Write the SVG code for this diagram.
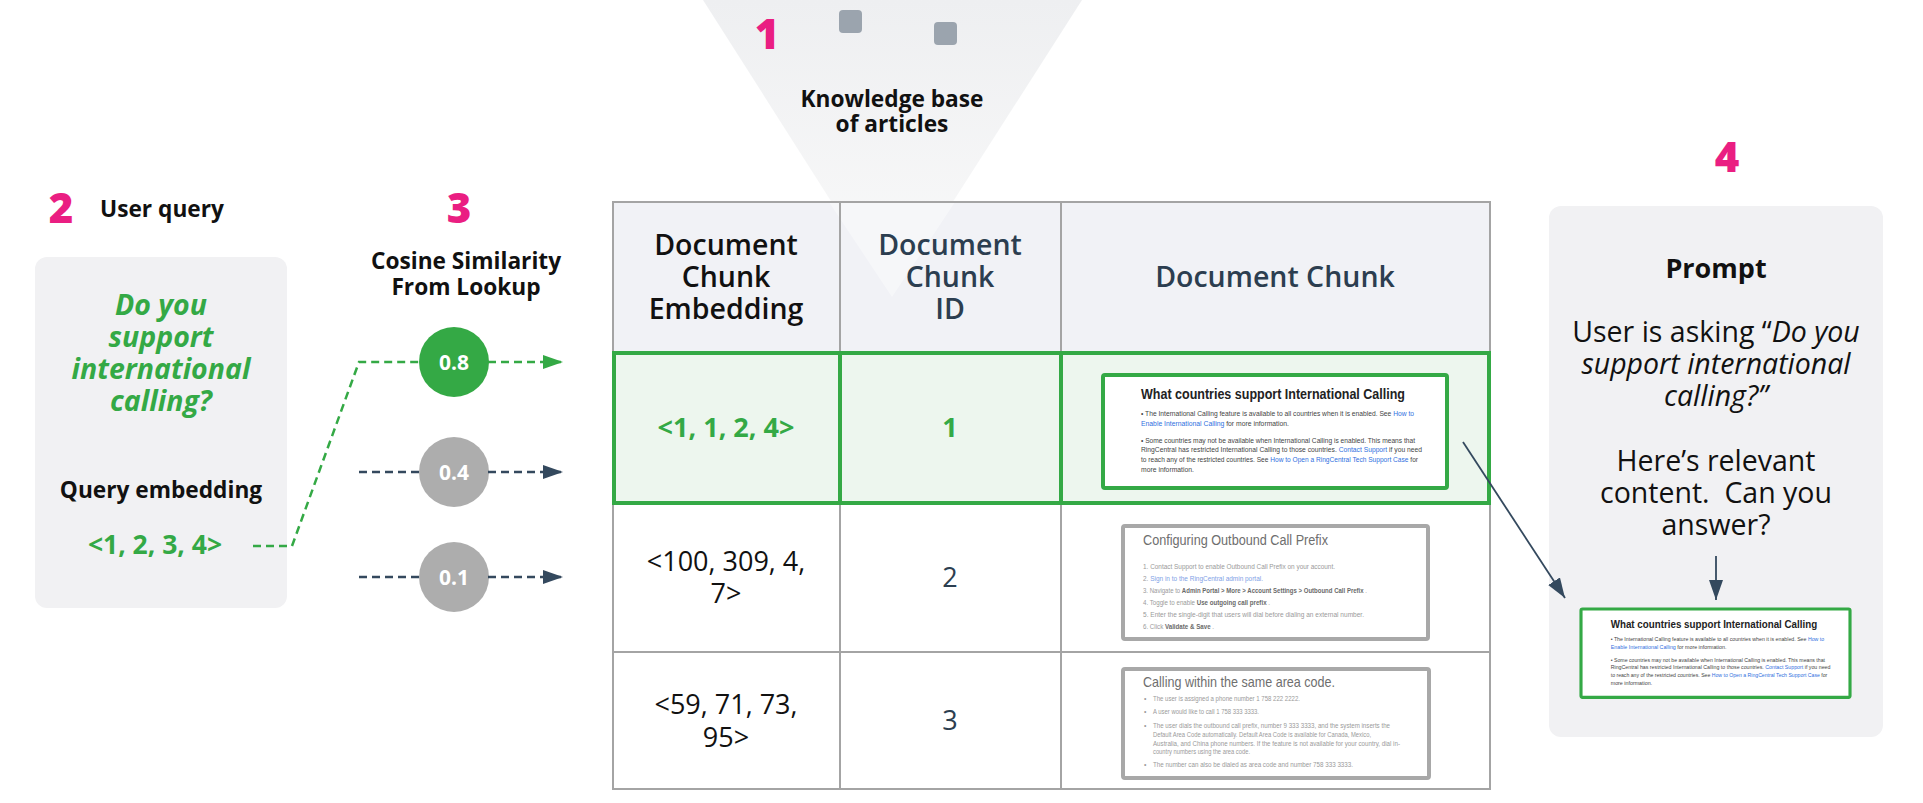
<svg xmlns="http://www.w3.org/2000/svg" xmlns:xlink="http://www.w3.org/1999/xlink" width="1923" height="803" viewBox="0 0 1923 803">
<style>
  .f { font-family: "Open Sans", "Liberation Sans", sans-serif; }
  .num { font-family: "Open Sans", "Liberation Sans", sans-serif; font-weight: 800; fill: #ea1e82; font-size: 42px; }
  .lbl { font-family: "Open Sans", "Liberation Sans", sans-serif; font-weight: 700; fill: #111; font-size: 22.7px; }
  .green { fill: #34a945; }
  .hdr { font-family: "Open Sans", "Liberation Sans", sans-serif; font-weight: 600; font-size: 28.5px; text-anchor: middle; }
  .cell { font-family: "Open Sans", "Liberation Sans", sans-serif; font-size: 27px; text-anchor: middle; }
  .slate { fill: #2c3e50; }
  .grid { stroke: #a4a4a4; stroke-width: 2; fill: none; }
  .dash-g { stroke: #34a945; stroke-width: 2.5; stroke-dasharray: 8 5; fill: none; }
  .dash-d { stroke: #34495e; stroke-width: 2.5; stroke-dasharray: 8 5; fill: none; }
  .tiny { font-family: "Liberation Sans", "Arimo", sans-serif; font-size: 7px; fill: #444; }
  .tinyg { font-family: "Liberation Sans", "Arimo", sans-serif; font-size: 6.8px; fill: #9a9a9a; }
  .link { fill: #2f6fe0; }
  .linkl { fill: #7fa2e6; }
  .bd { font-weight: 700; fill: #6a6a6a; }
  .circtext { font-family: "Open Sans", "Liberation Sans", sans-serif; font-weight: 700; font-size: 21px; fill: #fff; text-anchor: middle; }
  .prompt { font-family: "Open Sans", "Liberation Sans", sans-serif; font-size: 28.5px; fill: #111; text-anchor: middle; }
</style>
<defs>
  <linearGradient id="funnelGrad" x1="0" y1="0" x2="0" y2="1">
    <stop offset="0" stop-color="#eeeff1"/>
    <stop offset="1" stop-color="#fafafa"/>
  </linearGradient>
  <marker id="arrG" viewBox="0 0 20 14" refX="20" refY="7" markerWidth="20" markerHeight="14" markerUnits="userSpaceOnUse" orient="auto">
    <path d="M0,0 L20,7 L0,14 Z" fill="#34a945"/>
  </marker>
  <marker id="arrD" viewBox="0 0 20 14" refX="20" refY="7" markerWidth="20" markerHeight="14" markerUnits="userSpaceOnUse" orient="auto">
    <path d="M0,0 L20,7 L0,14 Z" fill="#34495e"/>
  </marker>
  <g id="intlDoc">
    <rect x="0" y="0" width="344" height="113" rx="2" fill="#ffffff" stroke="#34a945" stroke-width="4"/>
    <text x="38" y="24" font-family="'Liberation Sans', Arimo, sans-serif" font-size="14" font-weight="700" fill="#222" textLength="264" lengthAdjust="spacingAndGlyphs">What countries support International Calling</text>
    <text class="tiny" x="38" y="41" textLength="273" lengthAdjust="spacingAndGlyphs">• The International Calling feature is available to all countries when it is enabled. See <tspan class="link">How to</tspan></text>
    <text class="tiny" x="38" y="51" textLength="148" lengthAdjust="spacingAndGlyphs"><tspan class="link">Enable International Calling</tspan> for more information.</text>
    <text class="tiny" x="38" y="68" textLength="274" lengthAdjust="spacingAndGlyphs">• Some countries may not be available when International Calling is enabled. This means that</text>
    <text class="tiny" x="38" y="77" textLength="281" lengthAdjust="spacingAndGlyphs">RingCentral has restricted International Calling to those countries. <tspan class="link">Contact Support</tspan> if you need</text>
    <text class="tiny" x="38" y="87" textLength="277" lengthAdjust="spacingAndGlyphs">to reach any of the restricted countries. See <tspan class="link">How to Open a RingCentral Tech Support Case</tspan> for</text>
    <text class="tiny" x="38" y="97" textLength="53" lengthAdjust="spacingAndGlyphs">more information.</text>
  </g>
</defs>

<rect x="0" y="0" width="1923" height="803" fill="#ffffff"/>

<g id="knowledge-base">
  <polygon points="703,0 1082,0 892,297" fill="url(#funnelGrad)"/>
  <rect x="839" y="10" width="23" height="23" rx="4" fill="#9ba4ae"/>
  <rect x="934" y="22" width="23" height="23" rx="4" fill="#9ba4ae"/>
  <text class="num" x="767" y="49" text-anchor="middle">1</text>
  <text class="lbl" x="892" y="107" text-anchor="middle">Knowledge base</text>
  <text class="lbl" x="892" y="132" text-anchor="middle">of articles</text>
</g>

<g id="user-query">
  <text class="num" x="61" y="223" text-anchor="middle">2</text>
  <text class="lbl" x="100" y="217">User query</text>
  <rect x="35" y="257" width="252" height="351" rx="12" fill="#f1f1f3"/>
  <g font-family="'Open Sans', 'Liberation Sans', sans-serif" font-weight="700" font-style="italic" font-size="28.5" fill="#34a945" text-anchor="middle">
    <text x="161" y="315">Do you</text>
    <text x="161" y="347">support</text>
    <text x="161" y="379">international</text>
    <text x="161" y="411">calling?</text>
  </g>
  <text class="lbl" x="161" y="498" text-anchor="middle">Query embedding</text>
  <text class="f green" x="155" y="554" font-size="26.5" font-weight="700" text-anchor="middle">&lt;1, 2, 3, 4&gt;</text>
</g>

<g id="cosine-similarity">
  <text class="num" x="459" y="223" text-anchor="middle">3</text>
  <text class="lbl" x="466" y="269" text-anchor="middle">Cosine Similarity</text>
  <text class="lbl" x="466" y="295" text-anchor="middle">From Lookup</text>
</g>

<g id="score-08">
  <circle cx="454" cy="362" r="35" fill="#34a945"/>
  <text class="circtext" x="454" y="370">0.8</text>
</g>
<g id="score-04">
  <circle cx="454" cy="472" r="35" fill="#adadad"/>
  <text class="circtext" x="454" y="480">0.4</text>
</g>
<g id="score-01">
  <circle cx="454" cy="577" r="35" fill="#adadad"/>
  <text class="circtext" x="454" y="585">0.1</text>
</g>

<g id="table">
  <rect x="613" y="202" width="877" height="151" fill="#f1f2f6"/>
  <polygon points="829,202 955,202 892,297" fill="#ffffff" opacity="0.4"/>
  <rect x="613" y="353" width="877" height="150" fill="#edf6ee"/>
  <rect x="613" y="503" width="877" height="286" fill="#ffffff"/>
  <path class="grid" d="M613,202 H1490 V789 H613 Z M840,202 V789 M1061,202 V789 M613,652 H1490 M613,503 H1490"/>
  <rect x="614" y="353" width="875" height="150" fill="none" stroke="#34a945" stroke-width="4"/>
  <path d="M840,353 V503 M1061,353 V503" stroke="#34a945" stroke-width="4"/>

  <text class="hdr" fill="#111"><tspan x="726" y="255">Document</tspan><tspan x="726" y="287">Chunk</tspan><tspan x="726" y="319">Embedding</tspan></text>
  <text class="hdr slate"><tspan x="950" y="255">Document</tspan><tspan x="950" y="287">Chunk</tspan><tspan x="950" y="319">ID</tspan></text>
  <text class="hdr slate" x="1275" y="287">Document Chunk</text>

  <text class="cell green" x="726" y="437" font-weight="700">&lt;1, 1, 2, 4&gt;</text>
  <text class="cell green" x="950" y="437" font-weight="700">1</text>
  <use xlink:href="#intlDoc" transform="translate(1103,375)"/>

  <text class="cell" fill="#111"><tspan x="726" y="571">&lt;100, 309, 4,</tspan><tspan x="726" y="603">7&gt;</tspan></text>
  <text class="cell slate" x="950" y="587">2</text>
  <g id="doc-prefix">
    <rect x="1123" y="526" width="305" height="113" rx="2" fill="#ffffff" stroke="#a8a8a8" stroke-width="4"/>
    <text x="1143" y="545" font-family="'Liberation Sans', Arimo, sans-serif" font-size="14" fill="#6e6e6e" textLength="185" lengthAdjust="spacingAndGlyphs">Configuring Outbound Call Prefix</text>
    <text class="tinyg" x="1143" y="569" textLength="192" lengthAdjust="spacingAndGlyphs">1.  Contact Support to enable Outbound Call Prefix on your account.</text>
    <text class="tinyg" x="1143" y="581" textLength="120" lengthAdjust="spacingAndGlyphs">2.  <tspan class="linkl">Sign in to the RingCentral admin portal.</tspan></text>
    <text class="tinyg" x="1143" y="593" textLength="224" lengthAdjust="spacingAndGlyphs">3.  Navigate to <tspan class="bd">Admin Portal &gt; More &gt; Account Settings &gt; Outbound Call Prefix</tspan> .</text>
    <text class="tinyg" x="1143" y="605" textLength="127" lengthAdjust="spacingAndGlyphs">4.  Toggle to enable <tspan class="bd">Use outgoing call prefix</tspan> .</text>
    <text class="tinyg" x="1143" y="617" textLength="221" lengthAdjust="spacingAndGlyphs">5.  Enter the single-digit that users will dial before dialing an external number.</text>
    <text class="tinyg" x="1143" y="629" textLength="71" lengthAdjust="spacingAndGlyphs">6.  Click <tspan class="bd">Validate &amp; Save</tspan> .</text>
  </g>

  <text class="cell" fill="#111"><tspan x="726" y="714">&lt;59, 71, 73,</tspan><tspan x="726" y="747">95&gt;</tspan></text>
  <text class="cell slate" x="950" y="730">3</text>
  <g id="doc-area-code">
    <rect x="1123" y="669" width="306" height="109" rx="2" fill="#ffffff" stroke="#a8a8a8" stroke-width="4"/>
    <text x="1143" y="687" font-family="'Liberation Sans', Arimo, sans-serif" font-size="15" fill="#6e6e6e" textLength="192" lengthAdjust="spacingAndGlyphs">Calling within the same area code.</text>
    <g class="tinyg">
      <text x="1144" y="701">•</text><text x="1153" y="701" textLength="147" lengthAdjust="spacingAndGlyphs">The user is assigned a phone number 1 758 222 2222.</text>
      <text x="1144" y="714">•</text><text x="1153" y="714" textLength="106" lengthAdjust="spacingAndGlyphs">A user would like to call 1 758 333 3333.</text>
      <text x="1144" y="728">•</text><text x="1153" y="728" textLength="237" lengthAdjust="spacingAndGlyphs">The user dials the outbound call prefix, number 9 333 3333, and the system inserts the</text>
      <text x="1153" y="737" textLength="218" lengthAdjust="spacingAndGlyphs">Default Area Code automatically. Default Area Code is available for Canada, Mexico,</text>
      <text x="1153" y="745.5" textLength="247" lengthAdjust="spacingAndGlyphs">Australia, and China phone numbers. If the feature is not available for your country, dial in-</text>
      <text x="1153" y="754" textLength="97" lengthAdjust="spacingAndGlyphs">country numbers using the area code.</text>
      <text x="1144" y="767">•</text><text x="1153" y="767" textLength="200" lengthAdjust="spacingAndGlyphs">The number can also be dialed as area code and number 758 333 3333.</text>
    </g>
  </g>
</g>

<g id="prompt">
  <text class="num" x="1727" y="172" text-anchor="middle">4</text>
  <rect x="1549" y="206" width="334" height="531" rx="12" fill="#f1f1f3"/>
  <text class="f" x="1716" y="278" font-size="27" font-weight="700" fill="#111" text-anchor="middle">Prompt</text>
  <text class="prompt" x="1716" y="342">User is asking “<tspan font-style="italic">Do you</tspan></text>
  <text class="prompt" x="1716" y="374" font-style="italic">support international</text>
  <text class="prompt" x="1716" y="406" font-style="italic">calling?”</text>
  <text class="prompt" x="1716" y="471">Here’s relevant</text>
  <text class="prompt" x="1716" y="503" xml:space="preserve">content.  Can you</text>
  <text class="prompt" x="1716" y="535">answer?</text>
  <use xlink:href="#intlDoc" transform="translate(1581,609) scale(0.782)"/>
</g>

<g id="connectors">
  <path class="dash-g" d="M253,546 H292 L359,362 H420"/>
  <path class="dash-g" d="M488,362 H563" marker-end="url(#arrG)"/>
  <path class="dash-d" d="M359,472 H420"/>
  <path class="dash-d" d="M488,472 H563" marker-end="url(#arrD)"/>
  <path class="dash-d" d="M359,577 H420"/>
  <path class="dash-d" d="M488,577 H563" marker-end="url(#arrD)"/>
  <path d="M1463,442 L1565,598" stroke="#34495e" stroke-width="1.8" fill="none" marker-end="url(#arrD)"/>
  <path d="M1716,556 V600" stroke="#34495e" stroke-width="1.8" fill="none" marker-end="url(#arrD)"/>
</g>
</svg>
